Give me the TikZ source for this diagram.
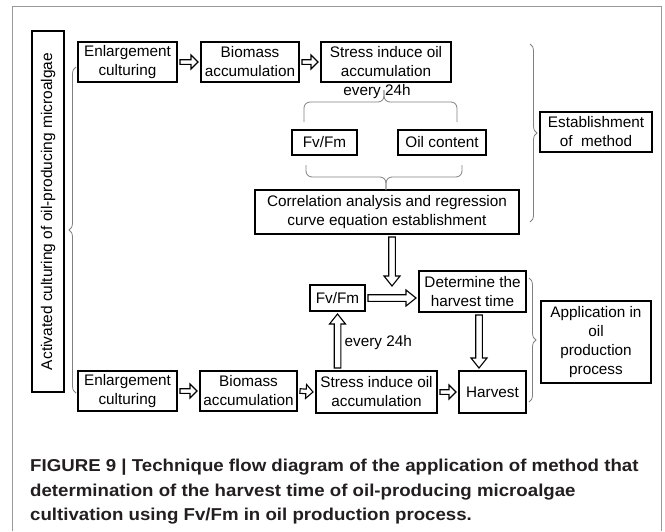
\documentclass[tikz,border=0pt]{standalone}
\usepackage{fontspec}
\setmainfont{Liberation Sans}
\newfontfamily\capfont[FakeStretch=1.085]{Liberation Sans}
\usetikzlibrary{calc,positioning}
\usetikzlibrary{decorations.pathreplacing}
\definecolor{frame_gray}{HTML}{999999}
\definecolor{brace_gray}{HTML}{808080}
\definecolor{caption_black}{HTML}{231F20}

\begin{document}
\begin{tikzpicture}[
        x=1pt, y=-1pt,
        onlytext/.style={align=center, inner sep=0pt, font=\fontsize{15.3}{19}\selectfont},
        box/.style={rectangle, draw, line width=1.4pt, align=center, inner sep=0pt, outer sep=3pt, font=\fontsize{15.3}{19}\selectfont},
        thinline/.style={draw=brace_gray, line width=0.8pt},
        bracket/.style={thinline, decorate, decoration={brace, amplitude=#1}},
        hollow/.style={draw, line width=1.1pt, line join=miter,
            to path={let \p1=($(\tikztotarget)!\hl!(\tikztostart)$) in
                ($(\tikztostart)!\sw!90:(\tikztotarget)$) -- ($(\p1)!\sw!90:(\tikztotarget)$)
                -- ($(\p1)!\hw!90:(\tikztotarget)$) -- (\tikztotarget)
                -- ($(\p1)!\hw!-90:(\tikztotarget)$) -- ($(\p1)!\sw!-90:(\tikztotarget)$)
                -- ($(\tikztostart)!\sw!-90:(\tikztotarget)$) -- cycle}},
        bighollow/.style={hollow, /utils/exec={\def\sw{3.3pt}\def\hw{8pt}\def\hl{10pt}}},
    ]
    \def\sw{2.3pt}
    \def\hw{7pt}
    \def\hl{7pt}
    \useasboundingbox (0,0) rectangle (665,531);

    % Frame
    \draw[frame_gray, line width=0.8pt] (12,531) -- (12,6) -- (661,6) -- (661,531);

    % Side label
    \node[box, rotate=90, minimum width=361pt, minimum height=32pt, font=\fontsize{15.5}{19}\selectfont] (active) at (48,211.5) {Activated culturing of oil-producing microalgae};

    % Establishment of method
    \node[box, minimum width=99pt, minimum height=40pt] (enlA) at (127.5,62) {Enlargement\\culturing};
    \node[box, minimum width=98pt, minimum height=40pt] (bioA) at (250,62) {Biomass\\accumulation};
    \node[box, minimum width=130pt, minimum height=40pt] (strA) at (386,62) {Stress induce oil\\accumulation};
    \node[onlytext] (every1) at (377,92) {every 24h};
    \node[box, minimum width=65pt, minimum height=25pt] (fvA) at (324.5,142.5) {Fv/Fm};
    \node[box, minimum width=88pt, minimum height=25pt] (oilA) at (442,142.5) {Oil content};
    \node[box, minimum width=264pt, minimum height=44pt] (corr) at (387,212) {Correlation analysis and regression\\curve equation establishment};
    \node[box, minimum width=112pt, minimum height=40pt] (estab) at (596,132) {Establishment\\of\ \ method};

    % Application in oil production
    \node[box, minimum width=55pt, minimum height=26pt] (fvB) at (337.5,298) {Fv/Fm};
    \node[box, minimum width=107pt, minimum height=41pt] (det) at (472.5,291.5) {Determine the\\harvest time};
    \node[box, minimum width=99pt, minimum height=40pt] (enlB) at (127.5,391) {Enlargement\\culturing};
    \node[box, minimum width=97pt, minimum height=40pt] (bioB) at (248.5,391) {Biomass\\accumulation};
    \node[box, minimum width=121pt, minimum height=42pt] (strB) at (376.5,392) {Stress induce oil\\accumulation};
    \node[box, minimum width=67pt, minimum height=42pt] (harv) at (492.5,392) {Harvest};
    \node[box, minimum width=110pt, minimum height=82pt] (appl) at (596,342) {Application in\\oil\\production\\process};

    % free arrow ends
    \coordinate (corrout) at ([xshift=5pt]corr.south);
    \coordinate (corrdown) at (392,286);
    \coordinate (harvx) at (479,0);
    \coordinate (detout) at (det.south -| harvx);
    \coordinate (harvin) at (harv.north -| harvx);
    \coordinate (strout) at (strB.north -| fvB);
    \coordinate (detin) at (det.west |- fvB);
    \node[onlytext, right=7pt of strout, yshift=25pt] (every2) {every 24h};

    % connection arrows
    \draw[hollow] (enlA.east) to (bioA.west);
    \draw[hollow] (bioA.east) to (strA.west);
    \draw[hollow] (enlB.east) to (bioB.west);
    \draw[hollow] (bioB.east) to (strB.west);
    \draw[hollow] (strB.east) to (harv.west);
    \draw[bighollow] (corrout) to (corrdown);
    \draw[bighollow] (fvB.east) to (detin);
    \draw[bighollow] (detout) to (harvin);
    \draw[bighollow] (strout) to (fvB.south);

    % Brackets
    \draw[bracket=7pt] (76,393) -- (76,67);
    \draw[bracket=7pt] (530,44) -- (530,222);
    \draw[bracket=7pt] (529,278) -- (529,402);
    \draw[thinline, rounded corners=6pt] (304,122) |- (384,102) -- (384,90);
    \draw[thinline, rounded corners=6pt] (457,122) |- (384,102) -- (384,90);
    \draw[thinline, rounded corners=6pt] (306,165) |- (386,177) -- (386,190);
    \draw[thinline, rounded corners=6pt] (462,165) |- (386,177) -- (386,190);

    % Caption
    \node[anchor=base west, align=left, inner sep=0pt, text=caption_black, font=\capfont\bfseries\fontsize{17.2}{24.5}\selectfont] (caption) at (30,520.5)
        {FIGURE 9 | Technique flow diagram of the application of method that\\determination of the harvest time of oil-producing microalgae\\cultivation using Fv/Fm in oil production process.};
\end{tikzpicture}
\end{document}
